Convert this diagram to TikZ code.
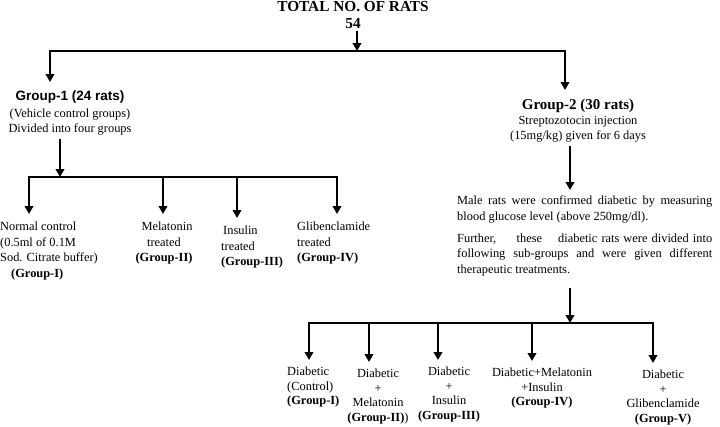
\documentclass[tikz,border=0pt]{standalone}
\usepackage{fontspec}
\setmainfont{Liberation Serif}
\newfontfamily\headsans{Liberation Sans}
\usetikzlibrary{arrows.meta,positioning}

\begin{document}
\begin{tikzpicture}[x=1pt,y=-1pt,
  bus/.style={line width=2.6pt,line cap=rect},
  drop/.style={line width=2.6pt,-{Triangle[width=8.5pt,length=8pt]}},
  txt/.style={inner sep=0pt,font=\fontsize{12.4}{15.5}\selectfont},
  leaf/.style={inner sep=0pt,font=\fontsize{12.4}{14.5}\selectfont},
  head/.style={inner sep=0pt,font=\fontsize{15.3}{17}\selectfont\bfseries,align=center}]
  \useasboundingbox (0,0) rectangle (720,426);
  % top
  \node[head,anchor=north] (total) at (353,1) {TOTAL NO. OF RATS\\54};
  \coordinate (split) at (357,51);
  \coordinate (g1in) at (50,51);
  \coordinate (g2in) at (565,51);
  \draw[drop] (split |- total.south) ++(0,2) -- (split);
  \draw[bus] (g1in) -- (g2in);
  % group 1
  \node[txt,align=center,anchor=north] (grpone) at (70,91)
    {{\headsans\bfseries\fontsize{13.5}{16}\selectfont Group-1 (24 rats)}\\[1pt](Vehicle control groups)\\Divided into four groups};
  \draw[drop,shorten >=9pt] (g1in) -- (g1in |- grpone.north);
  \coordinate (b1in) at (60,177);
  \coordinate (b1a) at (29,177);
  \coordinate (b1b) at (163,177);
  \coordinate (b1c) at (237,177);
  \coordinate (b1d) at (337,177);
  \draw[drop] (b1in |- grpone.south) ++(0,3) -- (b1in);
  \draw[bus] (b1a) -- (b1d);
  \node[txt,align=left,anchor=north west] (ctl) at (0,222)
    {Normal control\\(0.5ml of 0.1M\\Sod. Citrate buffer)\\\hspace*{11pt}\textbf{(Group-I)}};
  \node[txt,align=center,anchor=north] (mel) at (164,222)
    {\hspace*{6pt}Melatonin\\treated\\\textbf{(Group-II)}};
  \node[txt,align=left,anchor=north west] (ins) at (221,226)
    {\hspace*{2pt}Insulin\\treated\\\textbf{(Group-III)}};
  \node[txt,align=left,anchor=north west] (gli) at (297,222)
    {Glibenclamide\\treated\\\textbf{(Group-IV)}};
  \foreach \b/\n in {b1a/ctl,b1b/mel,b1c/ins,b1d/gli}
    \draw[drop] (\b) -- (\b |- \n.north) [shorten >=8pt];
  % group 2
  \node[txt,align=center,anchor=north] (grptwo) at (578,99)
    {\textbf{\fontsize{15}{16}\selectfont Group-2 (30 rats)}\\[-1pt]Streptozotocin injection\\(15mg/kg) given for 6 days};
  \draw[drop,shorten >=9pt] (g2in) -- (g2in |- grptwo.north);
  \node[txt,align=justify,text width=255pt,anchor=north west] (confirm) at (457,196)
    {Male rats were confirmed diabetic by measuring\linebreak blood glucose level (above 250mg/dl).};
  \node[txt,align=justify,text width=255pt,below=10pt of confirm.south west,anchor=north west] (further)
    {Further,\hspace{16pt} these\hspace{12pt} diabetic rats were divided into\linebreak following sub-groups and were given different\linebreak therapeutic treatments.};
  \draw[drop] (grptwo.south) ++(-8,4) -- ([xshift=-8pt]grptwo.south |- confirm.north) [shorten >=6pt];
  \coordinate (b2in) at (570,323);
  \coordinate (b2a) at (309,323);
  \coordinate (b2b) at (369,323);
  \coordinate (b2c) at (438,323);
  \coordinate (b2d) at (532,323);
  \coordinate (b2e) at (653,323);
  \draw[drop] (b2in |- further.south) ++(0,12) -- (b2in);
  \draw[bus] (b2a) -- (b2e);
  \node[leaf,align=left,anchor=north west] (dctl) at (287,367)
    {Diabetic\\(Control)\\\textbf{(Group-I)}};
  \node[leaf,align=center,anchor=north] (dmel) at (378,369)
    {Diabetic\\+\\Melatonin\\\textbf{(Group-II)})};
  \node[leaf,align=center,anchor=north] (dins) at (449,367)
    {Diabetic\\+\\Insulin\\\textbf{(Group-III)}};
  \node[leaf,align=center,anchor=north] (dmi) at (542,368)
    {Diabetic+Melatonin\\+Insulin\\\textbf{(Group-IV)}};
  \node[leaf,align=center,anchor=north] (dgli) at (663,370)
    {Diabetic\\+\\Glibenclamide\\\textbf{(Group-V)}};
  \foreach \b/\n in {b2a/dctl,b2b/dmel,b2c/dins,b2d/dmi,b2e/dgli}
    \draw[drop] (\b) -- (\b |- \n.north) [shorten >=7pt];
\end{tikzpicture}
\end{document}
